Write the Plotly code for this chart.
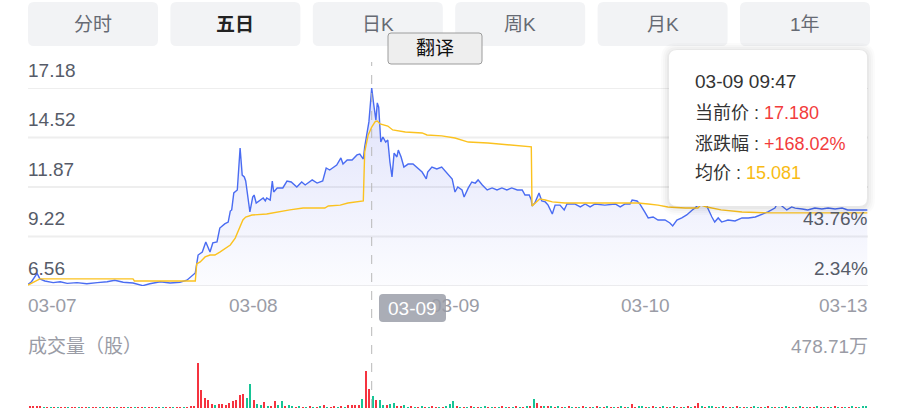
import plotly.graph_objects as go

# ------------------------------------------------------------------ data
dates = ["03-07", "03-08", "03-09", "03-10", "03-13"]
tabs = ["分时", "五日", "日K", "周K", "月K", "1年"]
active_tab = "五日"

# minute index over 5 trading days (240 min per day) and price (blue line)
price_t = [0, 5, 13, 17, 24, 36, 46, 56, 70, 84, 99, 113, 124, 136, 150, 164, 174, 189, 203, 217, 227, 236, 239,
           243, 249, 254, 260, 264, 270, 274, 281, 286, 289, 291, 294, 299, 303, 306, 309, 311, 314, 317, 321, 323,
           326, 331, 336, 339, 341, 346, 349, 351, 356, 364, 370, 376, 384, 391, 396, 406, 413, 421, 426, 431, 441,
           447, 450, 456, 463, 470, 474, 479,
           481, 487, 491, 494, 497, 499, 501, 504, 507, 511, 514, 517, 520, 523, 527, 529, 533, 537, 543, 550, 556,
           563, 569, 571, 577, 584, 591, 599, 606, 610, 614, 620, 623, 629, 634, 639, 643, 649, 656, 663, 670, 677,
           684, 691, 699, 706, 710, 716, 719,
           720, 724, 730, 734, 739, 743, 749, 753, 760, 766, 770, 781, 789, 796, 803, 810, 824, 839, 846, 853, 860,
           863, 870, 874, 881, 886, 893, 900, 910, 917, 921, 927, 934, 941, 949, 953, 957,
           962, 966, 971, 977, 981, 986, 991, 1000, 1010, 1020, 1029, 1039, 1049, 1057, 1067, 1071, 1077, 1084, 1091,
           1096, 1106, 1114, 1124, 1134, 1143, 1153, 1163, 1171, 1181, 1199]
price = [6.65, 6.79, 7.24, 6.94, 6.83, 6.74, 6.79, 6.70, 6.74, 6.68, 6.74, 6.79, 6.87, 6.76, 6.72, 6.58, 6.68, 6.79,
         6.72, 6.76, 6.87, 7.15, 7.26,
         8.22, 8.38, 8.92, 8.38, 8.87, 8.92, 9.67, 9.89, 9.99, 10.58, 10.64, 11.55, 11.71, 13.96, 12.51, 12.41, 12.19,
         11.28, 10.53, 11.33, 11.44, 11.01, 11.17, 11.28, 11.12, 11.28, 11.17, 12.19, 11.60, 11.82, 11.82, 12.19,
         12.14, 11.87, 12.14, 11.98, 12.25, 12.08, 12.19, 12.89, 12.78, 13.05, 13.43, 13.10, 13.32, 13.32, 13.59,
         13.64, 13.37,
         14.02, 15.36, 17.18, 16.27, 15.46, 16.38, 16.16, 14.28, 14.55, 14.28, 14.39, 13.21, 12.41, 13.69, 13.48,
         13.85, 13.48, 12.94, 13.10, 13.10, 12.89, 12.67, 12.30, 12.67, 12.94, 12.84, 12.94, 12.62, 12.30, 11.60,
         11.87, 11.71, 11.33, 11.82, 12.14, 12.08, 12.25, 11.98, 11.71, 11.82, 11.71, 11.82, 11.71, 11.82, 11.71,
         11.71, 11.44, 11.44, 11.17,
         10.85, 11.01, 11.55, 11.12, 11.07, 10.90, 10.42, 10.90, 10.90, 10.64, 10.96, 10.96, 10.80, 10.96, 10.80,
         10.96, 10.90, 10.96, 10.80, 10.96, 10.96, 11.17, 11.12, 10.96, 10.53, 10.21, 10.26, 10.10, 10.10, 9.94,
         9.78, 10.10, 10.21, 10.37, 10.64, 10.74, 10.90,
         11.28, 11.39, 10.74, 10.26, 9.99, 10.21, 9.99, 10.10, 10.05, 10.21, 10.21, 10.26, 10.42, 10.53, 10.74,
         11.01, 10.85, 10.64, 10.80, 10.74, 10.69, 10.64, 10.74, 10.69, 10.74, 10.69, 10.74, 10.64, 10.64, 10.64]

# average price (yellow line)
avg_t = [0, 17, 150, 152, 239,
         241, 246, 253, 260, 267, 274, 281, 289, 296, 301, 307, 311, 320, 341, 356, 374, 393, 424, 429, 446, 457,
         477, 479,
         481, 486, 491, 496, 499, 503, 514, 521, 539, 563, 570, 591, 610, 629, 657, 686, 719,
         720, 727, 731, 739, 749, 767, 871, 886, 900, 914, 939, 957,
         961, 970, 990, 1020, 1060, 1199]
avg = [6.61, 6.94, 6.94, 6.83, 6.83,
       7.74, 7.85, 8.12, 8.22, 8.22, 8.38, 8.54, 8.76, 9.13, 9.56, 10.10, 10.26, 10.37, 10.42, 10.53, 10.64, 10.74,
       10.74, 10.85, 10.90, 11.01, 11.12, 11.12,
       13.75, 14.66, 15.08, 15.38, 15.41, 15.25, 15.14, 14.93, 14.82, 14.77, 14.66, 14.61, 14.50, 14.28, 14.23,
       14.12, 14.02,
       10.85, 11.07, 11.23, 11.17, 11.07, 11.01, 11.01, 10.96, 10.90, 10.80, 10.74, 10.74,
       10.90, 10.80, 10.64, 10.53, 10.48, 10.48]

# volume (万股) in 5-minute bins, 48 bins per day; r = up (red), g = down (green)
vol_d1 = [22, 18, 25, 12, 8, 10, 6, 8, 9, 5, 7, 6, 8, 5, 6, 7, 5, 6, 8, 5, 6, 5, 7, 6,
          5, 8, 6, 5, 7, 6, 5, 6, 8, 5, 7, 6, 5, 6, 7, 8, 6, 5, 7, 6, 8, 10, 12, 20]
vol_d2 = [478.71, 190, 105, 85, 40, 30, 45, 40, 35, 50, 75, 85, 140, 150, 110, 255,
          80, 40, 35, 65, 20, 25, 70, 30, 70, 15, 30, 25, 10, 12, 8, 10,
          12, 8, 10, 15, 30, 10, 8, 25, 10, 12, 8, 30, 30, 35, 30, 100]
vol_d3 = [393, 200, 130, 80, 85, 35, 30, 45, 50, 20, 15, 30, 10, 12, 8, 10,
          15, 10, 8, 12, 10, 8, 10, 15, 40, 75, 15, 10, 8, 10, 12, 8,
          10, 8, 12, 10, 8, 10, 8, 12, 10, 8, 10, 12, 8, 10, 25, 15]
vol_d4 = [95, 50, 25, 20, 25, 15, 10, 12, 8, 10, 12, 8, 10, 8, 12, 10,
          8, 10, 20, 10, 8, 12, 10, 8, 10, 12, 8, 10, 45, 10, 12, 15,
          8, 10, 12, 8, 10, 15, 8, 10, 12, 8, 10, 8, 12, 10, 15, 55]
vol_d5 = [25, 10, 12, 20, 10, 8, 12, 10, 8, 10, 12, 8, 10, 8, 10, 12,
          8, 10, 8, 12, 10, 8, 10, 8, 12, 10, 8, 10, 12, 8, 10, 8,
          10, 12, 8, 10, 8, 10, 12, 8, 10, 8, 10, 12, 8, 10, 12, 20]
dir_d1 = "rrrrgrgr grrgrrgr rgrrgrgr rgrrgrgr rgrrgrgr rgrrgrrr"
dir_d2 = "rrrrrgrr rrrrrrgg rggrgrrg grggrgrg rgrgrgrr grgrrrrg"
dir_d3 = "rrgrggrg grrggrgr grgrrgrg ggrgrgrg rggrgrgr grgrgrgr"
dir_d4 = "grrgrgrg rgrgrgrg rgrgrgrg rgrgrrgg rgrgrgrg rgrgrgrr"
dir_d5 = "grggrgrg rgrgrgrg grgrgrgr grgrgrgr rgrgrgrg rgrgrggg"

y_ticks = [6.56, 9.215, 11.87, 14.525, 17.18]
y_tick_labels = ["6.56", "9.22", "11.87", "14.52", "17.18"]
pre_close = 6.41
vol_max_label = "478.71万"

tip_time = "03-09 09:47"
tip_price = 17.180
tip_avg = 15.081

# ------------------------------------------------------------------ styling
W, H = 912, 408
FONT = "Liberation Sans, Noto Sans CJK SC, sans-serif"
BLUE = "#4a6cf2"
YELLOW = "#fbc21f"
RED = "#f5333f"
GREEN = "#16c495"
PLOT_L, PLOT_R = 28, 868
PRICE_TOP, PRICE_BOT = 88, 286
VOL_TOP = 363
FS = 19


def X(p):
    return p / W


def Y(p):
    return 1 - p / H


def rrect(x0, y0, x1, y1, r):
    rx, ry = r, r
    return (f"M {X(x0 + rx)},{Y(y0)} L {X(x1 - rx)},{Y(y0)} Q {X(x1)},{Y(y0)} {X(x1)},{Y(y0 + ry)} "
            f"L {X(x1)},{Y(y1 - ry)} Q {X(x1)},{Y(y1)} {X(x1 - rx)},{Y(y1)} "
            f"L {X(x0 + rx)},{Y(y1)} Q {X(x0)},{Y(y1)} {X(x0)},{Y(y1 - ry)} "
            f"L {X(x0)},{Y(y0 + ry)} Q {X(x0)},{Y(y0)} {X(x0 + rx)},{Y(y0)} Z")


vols = vol_d1 + vol_d2 + vol_d3 + vol_d4 + vol_d5
dirs = (dir_d1 + dir_d2 + dir_d3 + dir_d4 + dir_d5).replace(" ", "")
vol_x = [5 * i + 2.5 for i in range(len(vols))]
vol_colors = [RED if d == "r" else GREEN for d in dirs]

fig = go.Figure()

fig.add_trace(go.Scatter(
    x=price_t, y=price, mode="lines", line=dict(color=BLUE, width=1.4),
    fill="tozeroy",
    fillgradient=dict(type="vertical", start=y_ticks[0], stop=y_ticks[-1],
                      colorscale=[[0, "rgba(95,110,235,0.02)"], [1, "rgba(95,110,235,0.20)"]]),
    xaxis="x", yaxis="y", hoverinfo="skip"))
fig.add_trace(go.Scatter(
    x=avg_t, y=avg, mode="lines", line=dict(color=YELLOW, width=1.4),
    xaxis="x", yaxis="y", hoverinfo="skip"))
fig.add_trace(go.Bar(
    x=vol_x, y=vols, width=3, marker=dict(color=vol_colors, line=dict(width=0)),
    xaxis="x2", yaxis="y2", hoverinfo="skip"))

shapes = []
annotations = []

# grid lines
for v in y_ticks:
    shapes.append(dict(type="line", xref="paper", yref="y", x0=X(PLOT_L), x1=X(PLOT_R), y0=v, y1=v,
                       line=dict(color="#eeeeee", width=2), layer="below"))

# y tick labels (left) and percent labels (right)
for v, lab in zip(y_ticks, y_tick_labels):
    annotations.append(dict(text=lab, xref="paper", yref="y", x=X(PLOT_L), y=v, xanchor="left",
                            yanchor="middle", yshift=18, showarrow=False, xshift=-2,
                            font=dict(size=FS, color="#565b68", family=FONT)))
for v in y_ticks[:2]:
    pct = (v / pre_close - 1) * 100
    annotations.append(dict(text=f"{pct:.2f}%", xref="paper", yref="y", x=X(PLOT_R), y=v, xanchor="right",
                            yanchor="middle", yshift=18, showarrow=False, xshift=2,
                            font=dict(size=FS, color="#565b68", family=FONT)))

# date labels
date_pos = [(28, "left"), (253, "center"), (455, "center"), (645, "center"), (868, "right")]
for d, (px, anc) in zip(dates, date_pos):
    annotations.append(dict(text=d, xref="paper", yref="paper", x=X(px), y=Y(305), xanchor=anc,
                            yanchor="middle", showarrow=False,
                            xshift=-2 if anc == "left" else (2 if anc == "right" else 0),
                            font=dict(size=FS, color="#9a9ca6", family=FONT)))

# crosshair
peak_i = price.index(max(price))
shapes.append(dict(type="line", xref="x", yref="paper", x0=price_t[peak_i], x1=price_t[peak_i],
                   y0=0, y1=Y(62), line=dict(color="#b8b8b8", width=1, dash="dash"), layer="above"))
# crosshair date tag
shapes.append(dict(type="path", xref="paper", yref="paper", path=rrect(379, 294, 446, 322, 4),
                   fillcolor="#aaadb6", line=dict(width=0), layer="above"))
annotations.append(dict(text=dates[2], xref="paper", yref="paper", x=X(412.5), y=Y(308), xanchor="center",
                        yanchor="middle", showarrow=False, font=dict(size=FS, color="white", family=FONT)))

# volume labels
annotations.append(dict(text="成交量（股）", xref="paper", yref="paper", x=X(PLOT_L), y=Y(346), xanchor="left",
                        yanchor="middle", showarrow=False, xshift=-2,
                        font=dict(size=FS, color="#9a9ca6", family=FONT)))
annotations.append(dict(text=vol_max_label, xref="paper", yref="paper", x=X(PLOT_R), y=Y(346), xanchor="right",
                        yanchor="middle", showarrow=False, xshift=2,
                        font=dict(size=FS, color="#9a9ca6", family=FONT)))

# tabs
for i, t in enumerate(tabs):
    x0 = 28 + i * 142.4
    shapes.append(dict(type="path", xref="paper", yref="paper", path=rrect(x0, 2, x0 + 130, 46, 6),
                       fillcolor="#f2f3f5", line=dict(width=0), layer="above"))
    bold = t == active_tab
    annotations.append(dict(text=f"<b>{t}</b>" if bold else t, xref="paper", yref="paper", x=X(x0 + 65),
                            y=Y(24), xanchor="center", yanchor="middle", showarrow=False,
                            font=dict(size=FS, color="#222222" if bold else "#666a73", family=FONT)))

# translate button
shapes.append(dict(type="path", xref="paper", yref="paper", path=rrect(388, 33, 482, 64, 3),
                   fillcolor="#eeeeee", line=dict(color="#9c9c9c", width=1), layer="above"))
annotations.append(dict(text="翻译", xref="paper", yref="paper", x=X(435), y=Y(48.5), xanchor="center",
                        yanchor="middle", showarrow=False, font=dict(size=FS, color="#111111", family=FONT)))

# tooltip card with soft shadow
for k, a in [(8, 0.015), (6, 0.02), (4, 0.025), (2, 0.03)]:
    shapes.append(dict(type="path", xref="paper", yref="paper",
                       path=rrect(669 - k, 50 - k + 1, 867 + k, 206 + k + 1, 8 + k),
                       fillcolor=f"rgba(0,0,0,{a})", line=dict(width=0), layer="above"))
shapes.append(dict(type="path", xref="paper", yref="paper", path=rrect(669, 50, 867, 206, 8),
                   fillcolor="white", line=dict(width=0), layer="above"))
chg = (tip_price / pre_close - 1) * 100
tip_lines = [
    (82, tip_time, 19),
    (113, f"当前价 : <span style='color:#f23c3c'>{tip_price:.3f}</span>", 18),
    (144, f"涨跌幅 : <span style='color:#f23c3c'>+{chg:.2f}%</span>", 18),
    (173, f"均价 : <span style='color:#f8bb14'>{tip_avg:.3f}</span>", 18),
]
for py, txt, sz in tip_lines:
    annotations.append(dict(text=txt, xref="paper", yref="paper", x=X(693), y=Y(py), xanchor="left",
                            yanchor="middle", showarrow=False, font=dict(size=sz, color="#333333", family=FONT)))

fig.update_layout(
    width=W, height=H, margin=dict(l=0, r=0, t=0, b=0),
    paper_bgcolor="white", plot_bgcolor="white", showlegend=False, hovermode=False,
    xaxis=dict(domain=[X(PLOT_L), X(PLOT_R)], range=[0, 1200], visible=False, fixedrange=True),
    yaxis=dict(domain=[Y(PRICE_BOT), Y(PRICE_TOP)], range=[y_ticks[0], y_ticks[-1]], visible=False,
               fixedrange=True),
    xaxis2=dict(domain=[X(PLOT_L), X(PLOT_R)], range=[0, 1200], visible=False, anchor="y2", fixedrange=True),
    yaxis2=dict(domain=[0, Y(VOL_TOP)], range=[0, max(vols)], visible=False, anchor="x2", fixedrange=True),
    bargap=0,
    shapes=shapes, annotations=annotations,
)

fig.write_html("out.html", config={"displayModeBar": False},
               post_script="document.body.style.margin='0';document.body.style.overflow='hidden';")
